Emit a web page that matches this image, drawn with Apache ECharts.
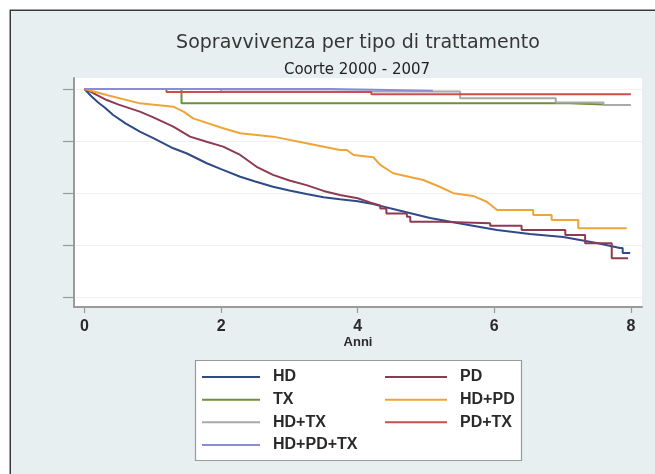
<!DOCTYPE html>
<html>
<head>
<meta charset="utf-8">
<script src="https://cdn.jsdelivr.net/npm/echarts@6/dist/echarts.min.js"></script>
<style>
  html, body { margin: 0; padding: 0; background: #ffffff; }
  #chart { width: 655px; height: 474px; }
</style>
</head>
<body>
<div id="chart"></div>
<script>
// Kaplan-Meier survival by treatment type (time in years, survival fraction)
const xTicks = [0, 2, 4, 6, 8];
const yTicks = [0, 0.25, 0.5, 0.75, 1];

const hdT = [0, 0.1, 0.2, 0.3, 0.42, 0.6, 0.81, 1.0, 1.3, 1.5, 1.79, 2.0, 2.28, 2.5, 2.76, 3.0, 3.25, 3.5, 3.74, 4.0, 4.18, 4.58, 5.06, 5.54, 6.04, 6.52, 7.01, 7.5, 7.84, 7.88, 7.88, 7.99];
const hdS = [1, 0.965, 0.935, 0.91, 0.875, 0.835, 0.795, 0.765, 0.715, 0.69, 0.643, 0.615, 0.578, 0.555, 0.53, 0.512, 0.495, 0.48, 0.47, 0.46, 0.45, 0.418, 0.38, 0.351, 0.322, 0.303, 0.288, 0.26, 0.236, 0.236, 0.212, 0.212];

const pdT = [0, 0.1, 0.325, 0.5, 0.81, 1.0, 1.3, 1.545, 1.8, 2.03, 2.28, 2.52, 2.76, 3.0, 3.25, 3.5, 3.74, 4.0, 4.18, 4.33, 4.33, 4.42, 4.42, 4.72, 4.72, 4.77, 4.77, 5.2, 5.2, 5.94, 5.94, 6.4, 6.4, 7.04, 7.04, 7.33, 7.33, 7.72, 7.72, 7.96];
const pdS = [1, 0.985, 0.947, 0.925, 0.891, 0.865, 0.819, 0.771, 0.745, 0.723, 0.683, 0.626, 0.587, 0.56, 0.538, 0.51, 0.49, 0.475, 0.455, 0.44, 0.425, 0.425, 0.402, 0.402, 0.386, 0.386, 0.362, 0.362, 0.354, 0.354, 0.343, 0.343, 0.322, 0.322, 0.298, 0.298, 0.258, 0.258, 0.186, 0.186];

const txT = [0, 1.42, 1.42, 7.1, 7.1, 7.6];
const txS = [1, 1, 0.931, 0.931, 0.925, 0.925];

const hdpdT = [0, 0.325, 0.81, 1.3, 1.45, 1.59, 2.03, 2.28, 2.76, 3.25, 3.74, 3.84, 3.94, 4.23, 4.33, 4.52, 4.96, 5.2, 5.4, 5.69, 5.89, 6.04, 6.57, 6.57, 6.84, 6.84, 7.23, 7.23, 7.94];
const hdpdS = [1, 0.971, 0.931, 0.915, 0.891, 0.859, 0.811, 0.787, 0.771, 0.739, 0.707, 0.707, 0.683, 0.672, 0.635, 0.595, 0.5625, 0.53, 0.499, 0.486, 0.458, 0.418, 0.418, 0.394, 0.394, 0.37, 0.37, 0.33, 0.33];

const hdtxT = [0, 2.0, 2.0, 5.5, 5.5, 6.9, 6.9, 7.6, 7.6, 8.0];
const hdtxS = [1, 1, 0.988, 0.988, 0.955, 0.955, 0.935, 0.935, 0.923, 0.923];

const pdtxT = [0, 1.2, 1.2, 4.2, 4.2, 8.0];
const pdtxS = [1, 1, 0.985, 0.985, 0.975, 0.975];

const hdpdtxT = [0, 3.6, 3.6, 5.1];
const hdpdtxS = [1, 1, 0.992, 0.992];

const seriesNames = ['HD', 'PD', 'TX', 'HD+PD', 'HD+TX', 'PD+TX', 'HD+PD+TX'];
const seriesColors = ['#2f4a86', '#8e3b52', '#6e8f3c', '#f0a437', '#a9a9a9', '#cc4f4f', '#8b8bd8'];
const seriesTimes = [hdT, pdT, txT, hdpdT, hdtxT, pdtxT, hdpdtxT];
const seriesSurv = [hdS, pdS, txS, hdpdS, hdtxS, pdtxS, hdpdtxS];

const zip = (t, s) => t.map((x, i) => [x, s[i]]);

const chart = echarts.init(document.getElementById('chart'), null, { renderer: 'canvas' });

const legendText = {
  fontFamily: 'Liberation Sans',
  fontSize: 16,
  fontWeight: 'bold',
  color: '#2a2a2a',
  lineHeight: 16,
  padding: [0, 0, 0, 8]
};

chart.setOption({
  animation: false,
  backgroundColor: '#ffffff',
  title: [
    {
      text: 'Sopravvivenza per tipo di trattamento',
      left: 358, top: 34, textAlign: 'center', padding: 0,
      textStyle: { fontFamily: 'DejaVu Sans', fontSize: 19, fontWeight: 'normal', color: '#363636' }
    },
    {
      text: 'Coorte 2000 - 2007',
      left: 357, top: 63, textAlign: 'center', padding: 0,
      textStyle: { fontFamily: 'DejaVu Sans', fontSize: 15, fontWeight: 'normal', color: '#222222' }
    }
  ],
  graphic: {
    elements: [
      {
        type: 'rect', z: -100,
        shape: { x: 10.25, y: 10.25, width: 700, height: 500 },
        style: { fill: '#e7eff1', stroke: '#3c3c3c', lineWidth: 1.5 }
      },
      {
        type: 'rect', z: -50,
        shape: { x: 195.5, y: 360.5, width: 326, height: 100 },
        style: { fill: '#ffffff', stroke: '#9a9a9a', lineWidth: 1.2 }
      }
    ]
  },
  grid: {
    left: 74, right: 13, top: 78, bottom: 167,
    show: true, backgroundColor: '#ffffff', borderWidth: 0
  },
  xAxis: {
    type: 'value',
    min: -0.154, max: 8.163,
    name: 'Anni', nameLocation: 'middle', nameGap: 29,
    nameTextStyle: { fontFamily: 'Liberation Sans', fontSize: 13, fontWeight: 'bold', color: '#2a2a2a' },
    axisLine: { show: true, onZero: false, lineStyle: { color: '#9a9a9a', width: 2 } },
    axisTick: { show: true, length: 6, customValues: xTicks, lineStyle: { color: '#9a9a9a', width: 1.2 } },
    axisLabel: {
      customValues: xTicks, margin: 12,
      fontFamily: 'Liberation Sans', fontSize: 16, fontWeight: 'bold', color: '#2a2a2a'
    },
    splitLine: { show: false }
  },
  yAxis: {
    type: 'value',
    min: -0.0481, max: 1.0529,
    axisLine: { show: true, onZero: false, lineStyle: { color: '#9a9a9a', width: 2 } },
    axisTick: { show: true, length: 11, customValues: yTicks, lineStyle: { color: '#9a9a9a', width: 1.2 } },
    axisLabel: { show: false, customValues: yTicks },
    splitLine: { show: true, lineStyle: { color: '#edf2f4', width: 1 } }
  },
  legend: [
    {
      data: ['HD', 'TX', 'HD+TX', 'HD+PD+TX'],
      orient: 'vertical', left: 202, top: 369, padding: 0,
      icon: 'rect', itemWidth: 58, itemHeight: 2, itemGap: 6.67,
      selectedMode: false, textStyle: legendText
    },
    {
      data: ['PD', 'HD+PD', 'PD+TX'],
      orient: 'vertical', left: 385, top: 369, padding: 0,
      icon: 'rect', itemWidth: 62, itemHeight: 2, itemGap: 6.67,
      selectedMode: false, textStyle: legendText
    }
  ],
  series: seriesNames.map((name, i) => ({
    name: name,
    type: 'line',
    data: zip(seriesTimes[i], seriesSurv[i]),
    showSymbol: false,
    symbol: 'none',
    color: seriesColors[i],
    lineStyle: { color: seriesColors[i], width: 2 },
    itemStyle: { color: seriesColors[i] },
    emphasis: { disabled: true }
  }))
});
</script>
</body>
</html>
